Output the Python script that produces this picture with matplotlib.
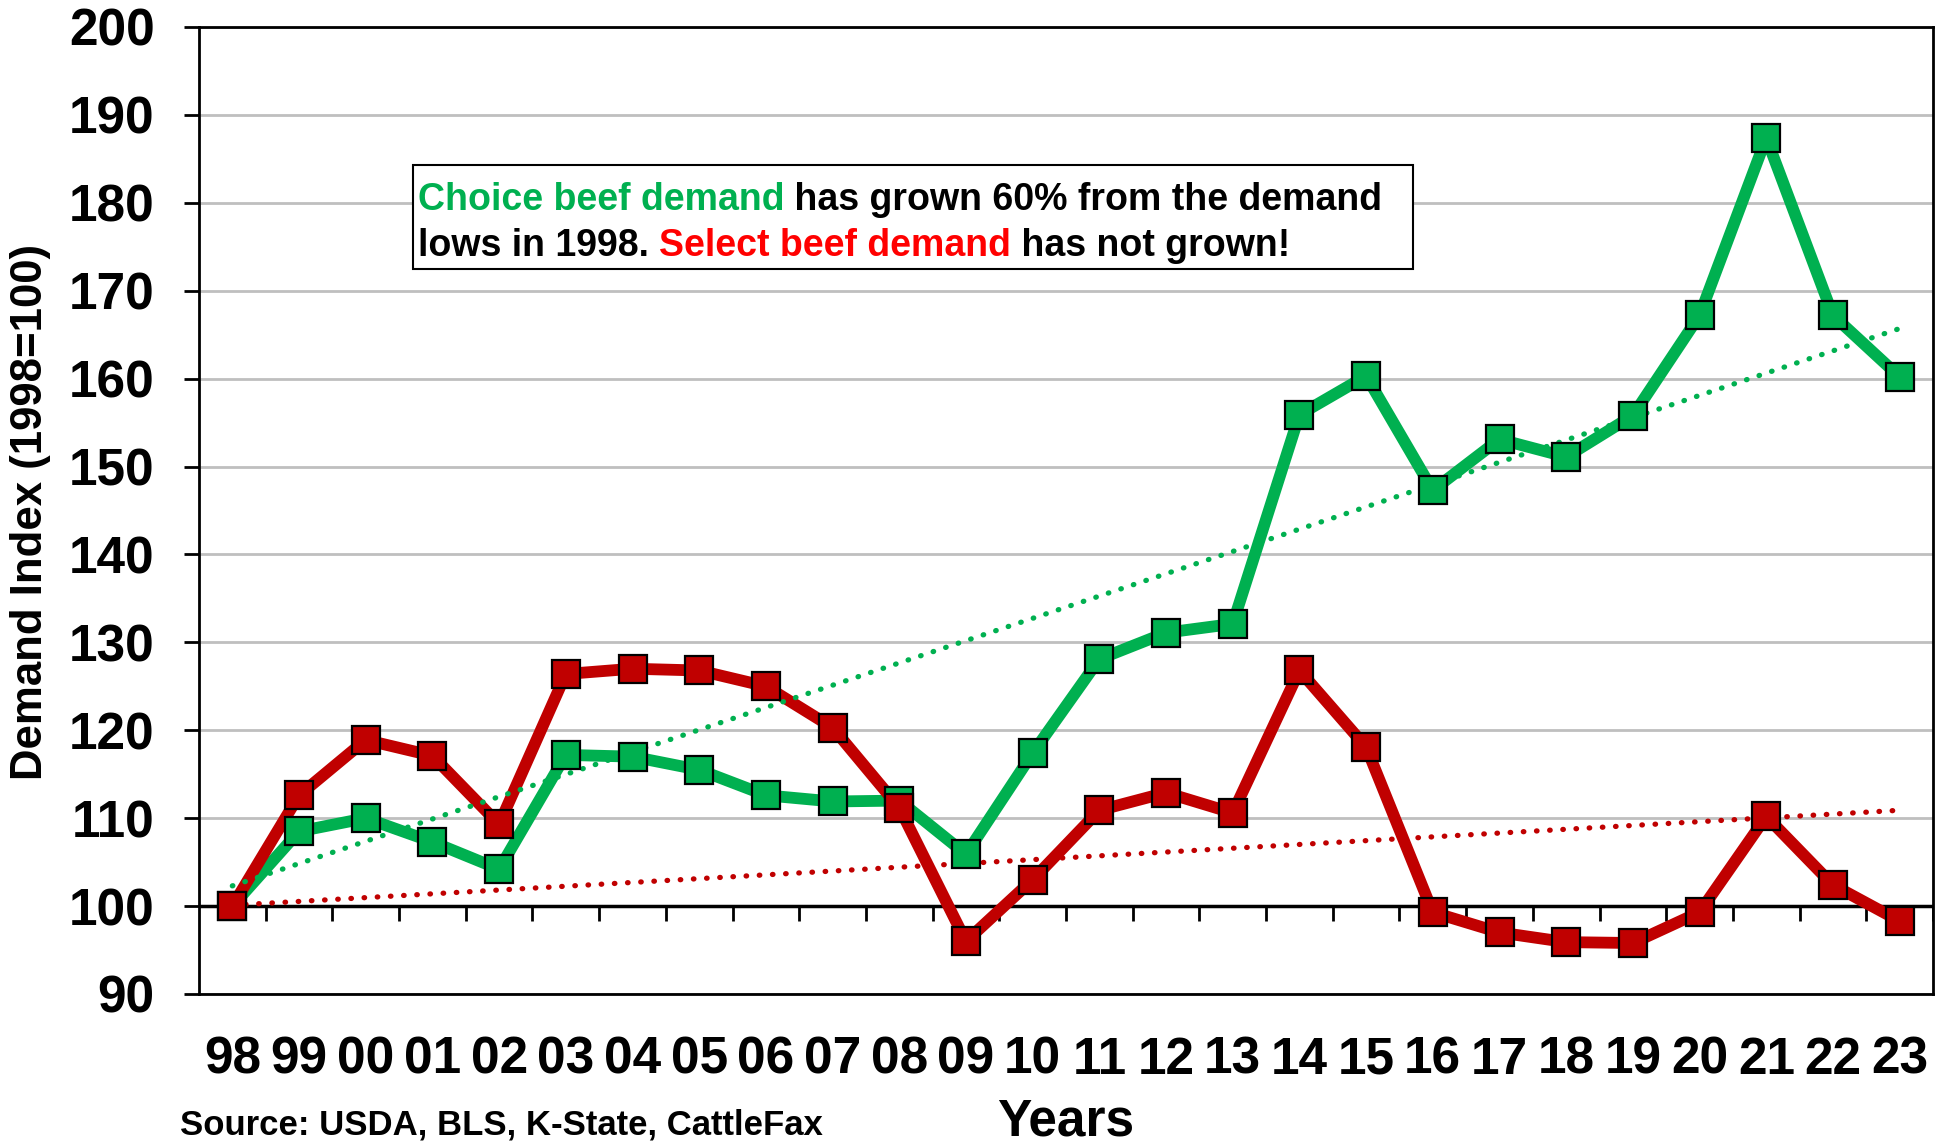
import numpy as np
import matplotlib
matplotlib.use("Agg")
import matplotlib.pyplot as plt
from matplotlib.offsetbox import TextArea, HPacker, VPacker, AnchoredOffsetbox, DrawingArea

plt.rcParams['font.family'] = ['Liberation Sans', 'DejaVu Sans']
plt.rcParams['font.weight'] = 'bold'

years = ["98", "99", "00", "01", "02", "03", "04", "05", "06", "07", "08", "09", "10",
         "11", "12", "13", "14", "15", "16", "17", "18", "19", "20", "21", "22", "23"]
choice = [100, 108.5, 110, 107.3, 104.2, 117.2, 117, 115.5, 112.6, 111.9, 112, 105.9, 117.4,
          128.1, 131.1, 132.1, 155.9, 160.3, 147.3, 153.1, 151.1, 155.8, 167.2, 187.4, 167.2, 160.2]
select = [100, 112.6, 118.9, 117.1, 109.3, 126.4, 127, 126.8, 125, 120.3, 111.2, 96, 103,
          110.9, 112.9, 110.6, 126.8, 118.1, 99.3, 97, 95.9, 95.8, 99.3, 110.2, 102.4, 98.3]
# trendline end values (first year, last year)
choice_trend = [102.3, 165.7]
select_trend = [100.1, 110.9]
yticks = list(range(90, 201, 10))

GREEN = "#00B050"
RED = "#C00000"

fig = plt.figure(figsize=(19.49, 11.44), dpi=100)
ax = fig.add_axes([199/1949, 1-994/1144, (1933-199)/1949, (994-27)/1144])

x = np.arange(len(years))
ax.set_xlim(-0.5, len(years) - 0.5)
ax.set_ylim(90, 200)

# grid
ax.set_yticks(yticks)
ax.yaxis.grid(True, color="#BFBFBF", lw=2, zorder=0)
ax.set_axisbelow(True)
ax.axhline(100, color="black", lw=2.5, zorder=2)
ax.vlines(np.arange(0.5, len(years)), 98.3, 100, color="black", lw=2, zorder=2)

tx = [x[0], x[-1]]
ax.plot(x, choice, color=GREEN, lw=8.5, zorder=3, solid_joinstyle='round')
ax.plot(x, select, color=RED, lw=8.5, zorder=3.1, solid_joinstyle='round')
ax.plot(tx, choice_trend, color=GREEN, lw=3.8, ls=(0, (0.1, 2.4)), dash_capstyle='round', zorder=4)
ax.plot(tx, select_trend, color=RED, lw=3.8, ls=(0, (0.1, 2.4)), dash_capstyle='round', zorder=4)
ax.plot(x, choice, ls='none', marker='s', ms=20.5, mfc=GREEN, mec='black', mew=1.6, zorder=5)
ax.plot(x, select, ls='none', marker='s', ms=20.5, mfc=RED, mec='black', mew=1.6, zorder=5.1)

ax.set_xticks(x)
ax.set_xticklabels(years)
ax.tick_params(axis='x', length=0, pad=30, labelsize=37)
ax.tick_params(axis='y', length=11, width=2, pad=21, labelsize=37)
for lab in ax.get_xticklabels() + ax.get_yticklabels():
    lab.set_fontweight('bold')

for s in ax.spines.values():
    s.set_linewidth(2)
    s.set_color("black")

fig.text(31/1949, 1-512/1144, "Demand Index (1998=100)", rotation=90, ha='center', va='center',
         fontsize=31.5, fontweight='bold')
fig.text(1066/1949, 1-1122/1144, "Years", ha='center', va='center', fontsize=37, fontweight='bold')
fig.text(180/1949, 2/1144, "Source: USDA, BLS, K-State, CattleFax", ha='left', va='bottom',
         fontsize=25, fontweight='bold')

fs = 27
def ta(t, c):
    return TextArea(t, textprops=dict(color=c, fontsize=fs, fontweight='bold'))

line1 = HPacker(children=[ta("Choice beef demand", GREEN), ta(" has grown 60% from the demand", "black"),
                          DrawingArea(18, 1)],
                pad=0, sep=0, align='baseline')
line2 = HPacker(children=[ta("lows in 1998. ", "black"), ta("Select beef demand", "#FF0000"),
                          ta(" has not grown!", "black")], pad=0, sep=0, align='baseline')
box = VPacker(children=[DrawingArea(1, 1.5), line1, line2], pad=0, sep=7, align='left')
anch = AnchoredOffsetbox(loc='upper left', child=box, pad=0.36, borderpad=0, frameon=True,
                         bbox_to_anchor=(413/1949, 1-165/1144), bbox_transform=fig.transFigure)
anch.patch.set_edgecolor('black')
anch.patch.set_linewidth(1.5)
anch.patch.set_boxstyle("square,pad=0")
anch.zorder = 6
ax.add_artist(anch)

fig.savefig("out.png", dpi=100)
